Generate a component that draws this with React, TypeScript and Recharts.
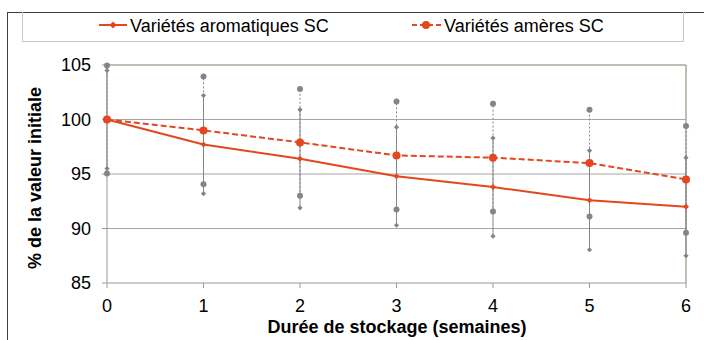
import { LineChart, Line, XAxis, YAxis, CartesianGrid, ErrorBar, ReferenceLine } from 'recharts'

// durée de stockage (semaines)
const weeks = [0, 1, 2, 3, 4, 5, 6]
// % de la valeur initiale
const aromatic = [100, 97.7, 96.4, 94.8, 93.8, 92.6, 92.0]
const aromaticErr = [4.5, 4.5, 4.5, 4.5, 4.5, 4.55, 4.5]
const bitter = [100, 99.0, 97.9, 96.7, 96.5, 96.0, 94.5]
const bitterErr = [4.95, 4.95, 4.9, 4.95, 4.95, 4.9, 4.9]
const yTicks = [85, 90, 95, 100, 105]

const RED = '#E4461F'
const GRAY = '#858585'
const FONT = '"Liberation Sans", Arial, sans-serif'

const data = weeks.map((w, i) => ({
  week: w,
  arom: aromatic[i],
  aromErr: aromaticErr[i],
  aromHi: aromatic[i] + aromaticErr[i],
  aromLo: aromatic[i] - aromaticErr[i],
  bit: bitter[i],
  bitErr: bitterErr[i],
  bitHi: bitter[i] + bitterErr[i],
  bitLo: bitter[i] - bitterErr[i],
}))

const diamond = (color: string, s: number) => (props: any) => {
  const { cx, cy, index } = props
  if (cx == null || cy == null) return <g key={index} />
  return <path key={index} d={`M${cx},${cy - s}L${cx + s},${cy}L${cx},${cy + s}L${cx - s},${cy}Z`} fill={color} />
}

const dotC = (color: string, r: number) => (props: any) => {
  const { cx, cy, index } = props
  if (cx == null || cy == null) return <g key={index} />
  return <circle key={index} cx={cx} cy={cy} r={r} fill={color} />
}

export default function App() {
  return (
    <div style={{ position: 'absolute', left: 0, top: 0, width: 704, height: 340, background: '#fff', fontFamily: FONT, overflow: 'hidden' }}>
      {/* cadre extérieur */}
      <div style={{ position: 'absolute', left: 7, top: 12, width: 720, height: 360, borderLeft: '1px solid #404040', borderTop: '1px solid #404040' }} />
      {/* légende */}
      <div style={{ position: 'absolute', left: 22, top: 12, width: 660, height: 29, border: '1px solid #c8c8c8', borderTop: 'none' }} />
      <svg style={{ position: 'absolute', left: 0, top: 0 }} width={704} height={60}>
        <line x1={99} y1={25} x2={127} y2={25} stroke={RED} strokeWidth={2} />
        <path d="M113,21.5L116.5,25L113,28.5L109.5,25Z" fill={RED} />
        <text x={130} y={31.5} fontSize={18} fill="#000" fontFamily={FONT}>Variétés aromatiques SC</text>
        <line x1={412} y1={25} x2={441} y2={25} stroke={RED} strokeWidth={2} strokeDasharray="5 3" />
        <circle cx={426} cy={25} r={4} fill={RED} />
        <text x={444} y={31.5} fontSize={18} fill="#000" fontFamily={FONT}>Variétés amères SC</text>
        {/* titre axe Y */}
        <text x={0} y={0} />
      </svg>
      <LineChart width={704} height={340} data={data} margin={{ top: 65, right: 18, bottom: 0, left: 0 }} style={{ position: 'absolute', left: 0, top: 0 }}>
        <CartesianGrid vertical={false} stroke="#a6a6a6" horizontalValues={[90, 95, 100]} />
        <ReferenceLine y={105} stroke="#a8a89a" strokeWidth={1.5} />
        <ReferenceLine x={6} stroke="#a8a89a" strokeWidth={1.5} />
        <XAxis
          type="number"
          dataKey="week"
          domain={[0, 6]}
          ticks={weeks}
          height={57}
          tickSize={5}
          tickMargin={11}
          stroke="#9a9a9a"
          tick={{ fill: '#000', fontSize: 18, fontFamily: FONT }}
          tickLine={{ stroke: '#9a9a9a' }}
        />
        <YAxis
          type="number"
          domain={[85, 105]}
          ticks={yTicks}
          width={107}
          tickSize={5}
          tickMargin={11}
          stroke="#9a9a9a"
          tick={{ fill: '#000', fontSize: 18, fontFamily: FONT }}
          tickLine={{ stroke: '#9a9a9a' }}
        />
        <Line dataKey="bit" stroke="none" dot={false} activeDot={false} isAnimationActive={false} legendType="none">
          <ErrorBar dataKey="bitErr" width={0} stroke={GRAY} strokeWidth={1} strokeDasharray="2 2" direction="y" />
        </Line>
        <Line dataKey="arom" stroke="none" dot={false} activeDot={false} isAnimationActive={false} legendType="none">
          <ErrorBar dataKey="aromErr" width={0} stroke={GRAY} strokeWidth={1} direction="y" />
        </Line>
        <Line dataKey="bitHi" stroke="none" dot={dotC(GRAY, 3)} activeDot={false} isAnimationActive={false} />
        <Line dataKey="bitLo" stroke="none" dot={dotC(GRAY, 3)} activeDot={false} isAnimationActive={false} />
        <Line dataKey="aromHi" stroke="none" dot={diamond(GRAY, 2.6)} activeDot={false} isAnimationActive={false} />
        <Line dataKey="aromLo" stroke="none" dot={diamond(GRAY, 2.6)} activeDot={false} isAnimationActive={false} />
        <Line dataKey="arom" stroke={RED} strokeWidth={2} dot={diamond(RED, 3)} activeDot={false} isAnimationActive={false} />
        <Line dataKey="bit" stroke={RED} strokeWidth={2} strokeDasharray="6 3" dot={dotC(RED, 4)} activeDot={false} isAnimationActive={false} />
      </LineChart>
      <svg style={{ position: 'absolute', left: 0, top: 0, pointerEvents: 'none' }} width={704} height={340}>
        <text x={35} y={178} transform="rotate(-90 35 178)" textAnchor="middle" dominantBaseline="central" fontSize={18} fontWeight="bold" fill="#000" fontFamily={FONT}>
          % de la valeur initiale
        </text>
        <text x={397} y={333} textAnchor="middle" fontSize={18} fontWeight="bold" fill="#000" fontFamily={FONT}>
          Durée de stockage (semaines)
        </text>
      </svg>
    </div>
  )
}
